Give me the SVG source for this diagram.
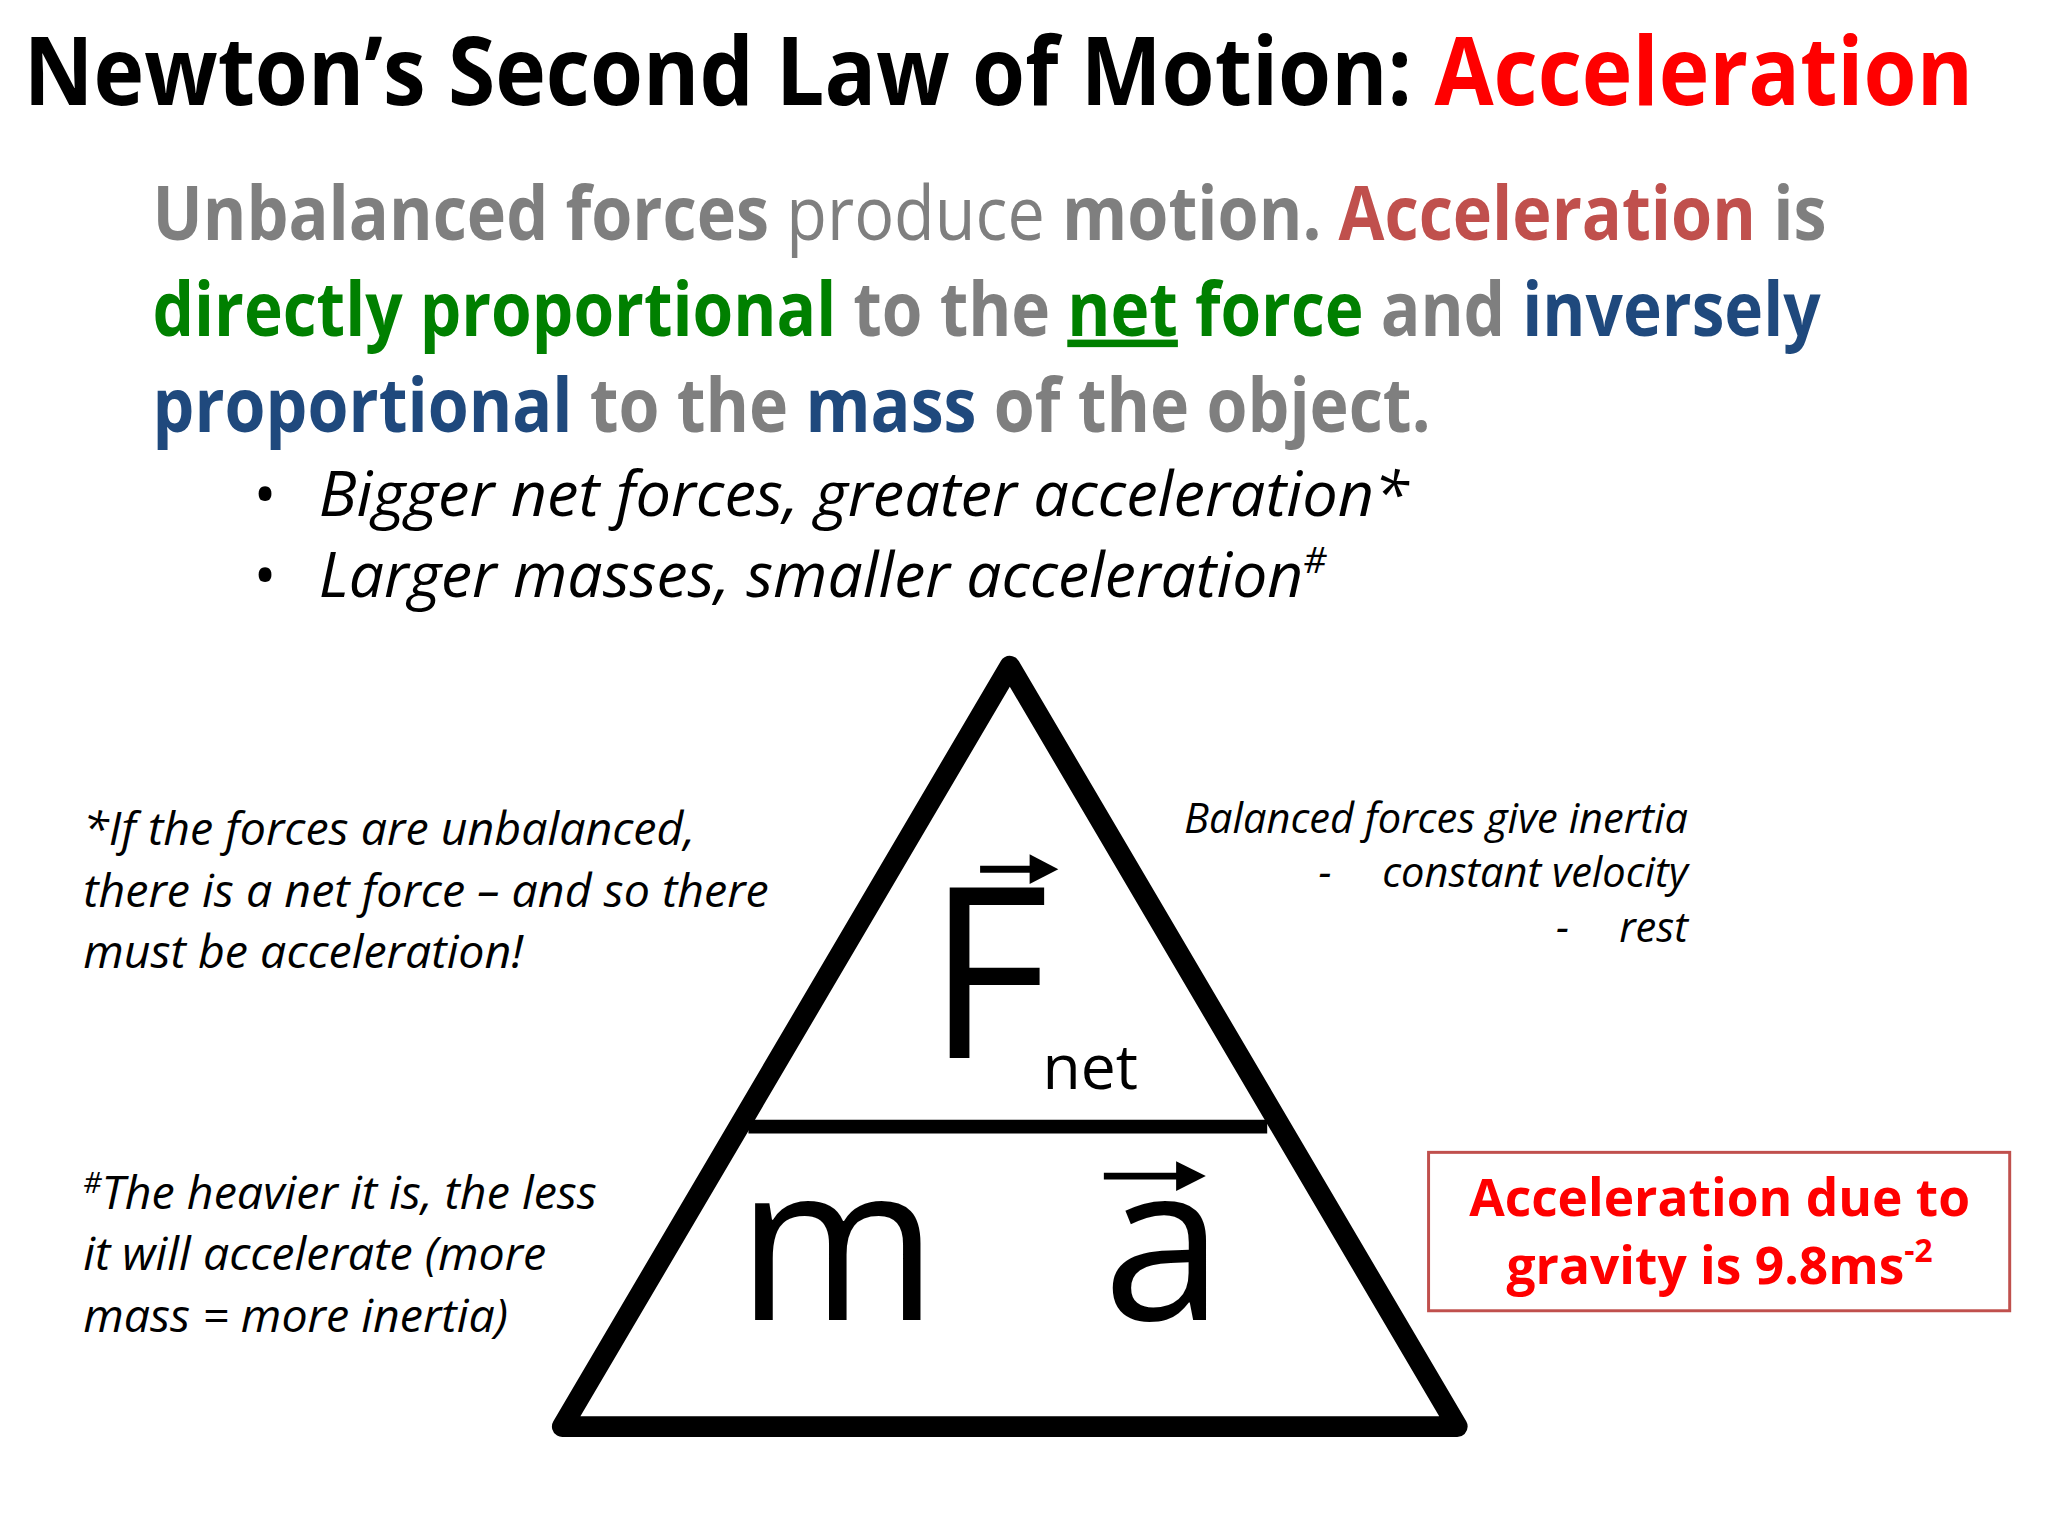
<svg xmlns="http://www.w3.org/2000/svg" width="2048" height="1536" viewBox="0 0 2048 1536">
<style>
text{font-family:"Open Sans","Noto Sans",sans-serif}
.b{font-weight:bold}
.g{fill:#7f7f7f}.rb{fill:#c0504d}.gr{fill:#008000}.bl{fill:#1f497d}
.it{font-style:italic;fill:#000}
</style>
<rect width="2048" height="1536" fill="#fff"/>
<g transform="scale(0.99)">
<g id="title"><text x="24" y="106" font-size="96" class="b" textLength="1969" lengthAdjust="spacingAndGlyphs">Newton’s Second Law of Motion: <tspan fill="#ff0000">Acceleration</tspan></text></g>
<g id="paragraph" font-size="76" class="b">
<text x="154" y="242" textLength="1691" lengthAdjust="spacingAndGlyphs"><tspan class="g">Unbalanced forces </tspan><tspan class="g" font-weight="normal">produce </tspan><tspan class="g">motion. </tspan><tspan class="rb">Acceleration </tspan><tspan class="g">is</tspan></text>
<text x="154" y="339" textLength="1685" lengthAdjust="spacingAndGlyphs"><tspan class="gr">directly proportional </tspan><tspan class="g">to the </tspan><tspan class="gr" text-decoration="underline">net</tspan><tspan class="gr"> force </tspan><tspan class="g">and </tspan><tspan class="bl">inversely</tspan></text>
<text x="154" y="436" textLength="1291" lengthAdjust="spacingAndGlyphs"><tspan class="bl">proportional </tspan><tspan class="g">to the </tspan><tspan class="bl">mass </tspan><tspan class="g">of the object.</tspan></text>
</g>
<g id="bullets" font-size="62">
<text x="256" y="521">•</text><text x="322" y="521" class="it" textLength="1101" lengthAdjust="spacingAndGlyphs">Bigger net forces, greater acceleration*</text>
<text x="256" y="603">•</text><text x="322" y="603" class="it" textLength="1018" lengthAdjust="spacingAndGlyphs">Larger masses, smaller acceleration<tspan font-size="36" dy="-24">#</tspan></text>
</g>
<g id="triangle">
<polygon points="1020,673 568,1441 1472,1441" fill="none" stroke="#000" stroke-width="21" stroke-linejoin="round"/>
<line x1="756" y1="1138" x2="1280" y2="1138" stroke="#000" stroke-width="14"/>
<text x="936" y="1069" font-size="240">F</text>
<line x1="990" y1="878" x2="1052" y2="878" stroke="#000" stroke-width="7"/>
<polygon points="1069,878 1040,863 1040,893" fill="#000"/>
<text x="1053" y="1100" font-size="63">net</text>
<text x="744" y="1333" font-size="220">m</text>
<text x="1114" y="1333" font-size="220">a</text>
<line x1="1115" y1="1188" x2="1200" y2="1188" stroke="#000" stroke-width="7"/>
<polygon points="1218,1188 1188,1173 1188,1203" fill="#000"/>
</g>
<g id="note-left-top" font-size="47" class="it">
<text x="84" y="854">*If the forces are unbalanced,</text>
<text x="84" y="916">there is a net force – and so there</text>
<text x="84" y="978">must be acceleration!</text>
</g>
<g id="note-left-bottom" font-size="47" class="it">
<text x="84" y="1221"><tspan font-size="29" dy="-16">#</tspan><tspan dy="16">The heavier it is, the less</tspan></text>
<text x="84" y="1283">it will accelerate (more</text>
<text x="84" y="1345">mass = more inertia)</text>
</g>
<g id="note-right" font-size="42" class="it" text-anchor="end">
<text x="1705" y="841">Balanced forces give inertia</text>
<text x="1345" y="896">-</text><text x="1705" y="896">constant velocity</text>
<text x="1585" y="952">-</text><text x="1705" y="952">rest</text>
</g>
<g id="gravity-box">
<rect x="1443" y="1164" width="587" height="160" fill="none" stroke="#c0504d" stroke-width="3"/>
<text x="1737" y="1228" font-size="52" class="b" fill="#ff0000" text-anchor="middle">Acceleration due to</text>
<text x="1737" y="1297" font-size="52" class="b" fill="#ff0000" text-anchor="middle">gravity is 9.8ms<tspan font-size="32" dy="-22">-2</tspan></text>
</g>
</g>
</svg>
